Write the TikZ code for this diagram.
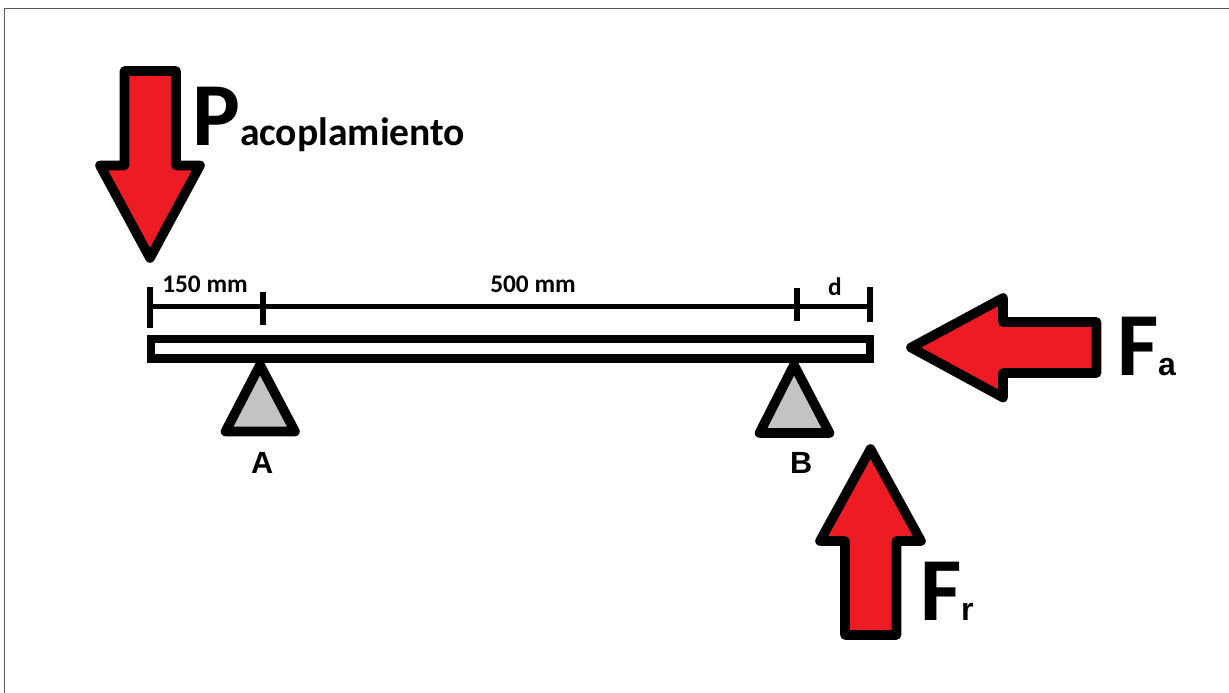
\documentclass[tikz,border=0pt]{standalone}
\usepackage{fontspec}
\setmainfont{Carlito}
\newfontfamily\arialish{Liberation Sans}
\definecolor{paintred}{HTML}{ED1C24}
\definecolor{paintgray}{HTML}{C3C3C3}
\tikzset{
  px/.style={x=0.75pt,y=-0.75pt},
  force/.style={draw=black,fill=paintred,line width=7.2pt,line join=round},
  support/.style={draw=black,fill=paintgray,line width=7.2pt,line join=round},
  beam/.style={draw=black,fill=white,line width=6.6pt,line join=miter},
  dim/.style={draw=black,line width=4.2pt},
  lab/.style={inner sep=0pt,outer sep=0pt,anchor=base west},
  bigf/.style={lab,font=\fontsize{67.5}{70}\selectfont\bfseries},
  dimt/.style={inner sep=0pt,outer sep=0pt,anchor=base,font=\fontsize{19}{22}\selectfont\bfseries},
}
\begin{document}
\begin{tikzpicture}[px]
\useasboundingbox (0,0) rectangle (1229,693);
\fill[white] (0,0) rectangle (1229,693);
% frame
\draw[draw=black!65,line width=1.1pt] (4.5,693) -- (4.5,8.5) -- (1229,8.5);
% force P
\draw[force] (124.5,71) -- (176,71) -- (176,165.5) -- (200,165.5) -- (150,258) -- (100,165.5) -- (124.5,165.5) -- cycle;
% beam
\draw[beam] (151,339) rectangle (870,358.5);
% dimension line
\draw[dim] (150,306.5) -- (870,306.5);
\draw[dim] (150,287) -- (150,327.5);
\draw[dim] (263,292) -- (263,325);
\draw[dim] (797,288) -- (797,321);
\draw[dim] (870,287) -- (870,322);
% supports
\draw[support] (260,365) -- (295,431.5) -- (225.5,431.5) -- cycle;
\draw[support] (794,365) -- (829.5,433) -- (759.5,433) -- cycle;
% force Fa
\draw[force] (1096.5,322) -- (1003,322) -- (1003,298) -- (911,347.5) -- (1003,397.5) -- (1003,373) -- (1096.5,373) -- cycle;
% force Fr
\draw[force] (845,635) -- (896.5,635) -- (896.5,541) -- (921,541) -- (870.5,449) -- (820,541) -- (845,541) -- cycle;
% labels
\node[bigf] (p) at (192,145) {P};
\node[lab,font=\fontsize{29.7}{32}\selectfont\bfseries] (pa) at (240,145) {acoplamiento};
\node[dimt] (d1) at (205,292) {150 mm};
\node[dimt] (d2) at (533,292) {500 mm};
\node[dimt] (d3) at (835,295) {d};
\node[lab,font=\arialish\fontsize{23}{26}\selectfont\bfseries] (a) at (251,473) {A};
\node[lab,font=\arialish\fontsize{23}{26}\selectfont\bfseries] (b) at (790,473) {B};
\node[bigf] (f1) at (1117,375) {F};
\node[lab,font=\arialish\fontsize{24}{26}\selectfont\bfseries] (f1s) at (1158,375) {a};
\node[bigf] (f2) at (920,620) {F};
\node[lab,font=\arialish\fontsize{24}{26}\selectfont\bfseries] (f2s) at (961,620) {r};
\end{tikzpicture}
\end{document}
